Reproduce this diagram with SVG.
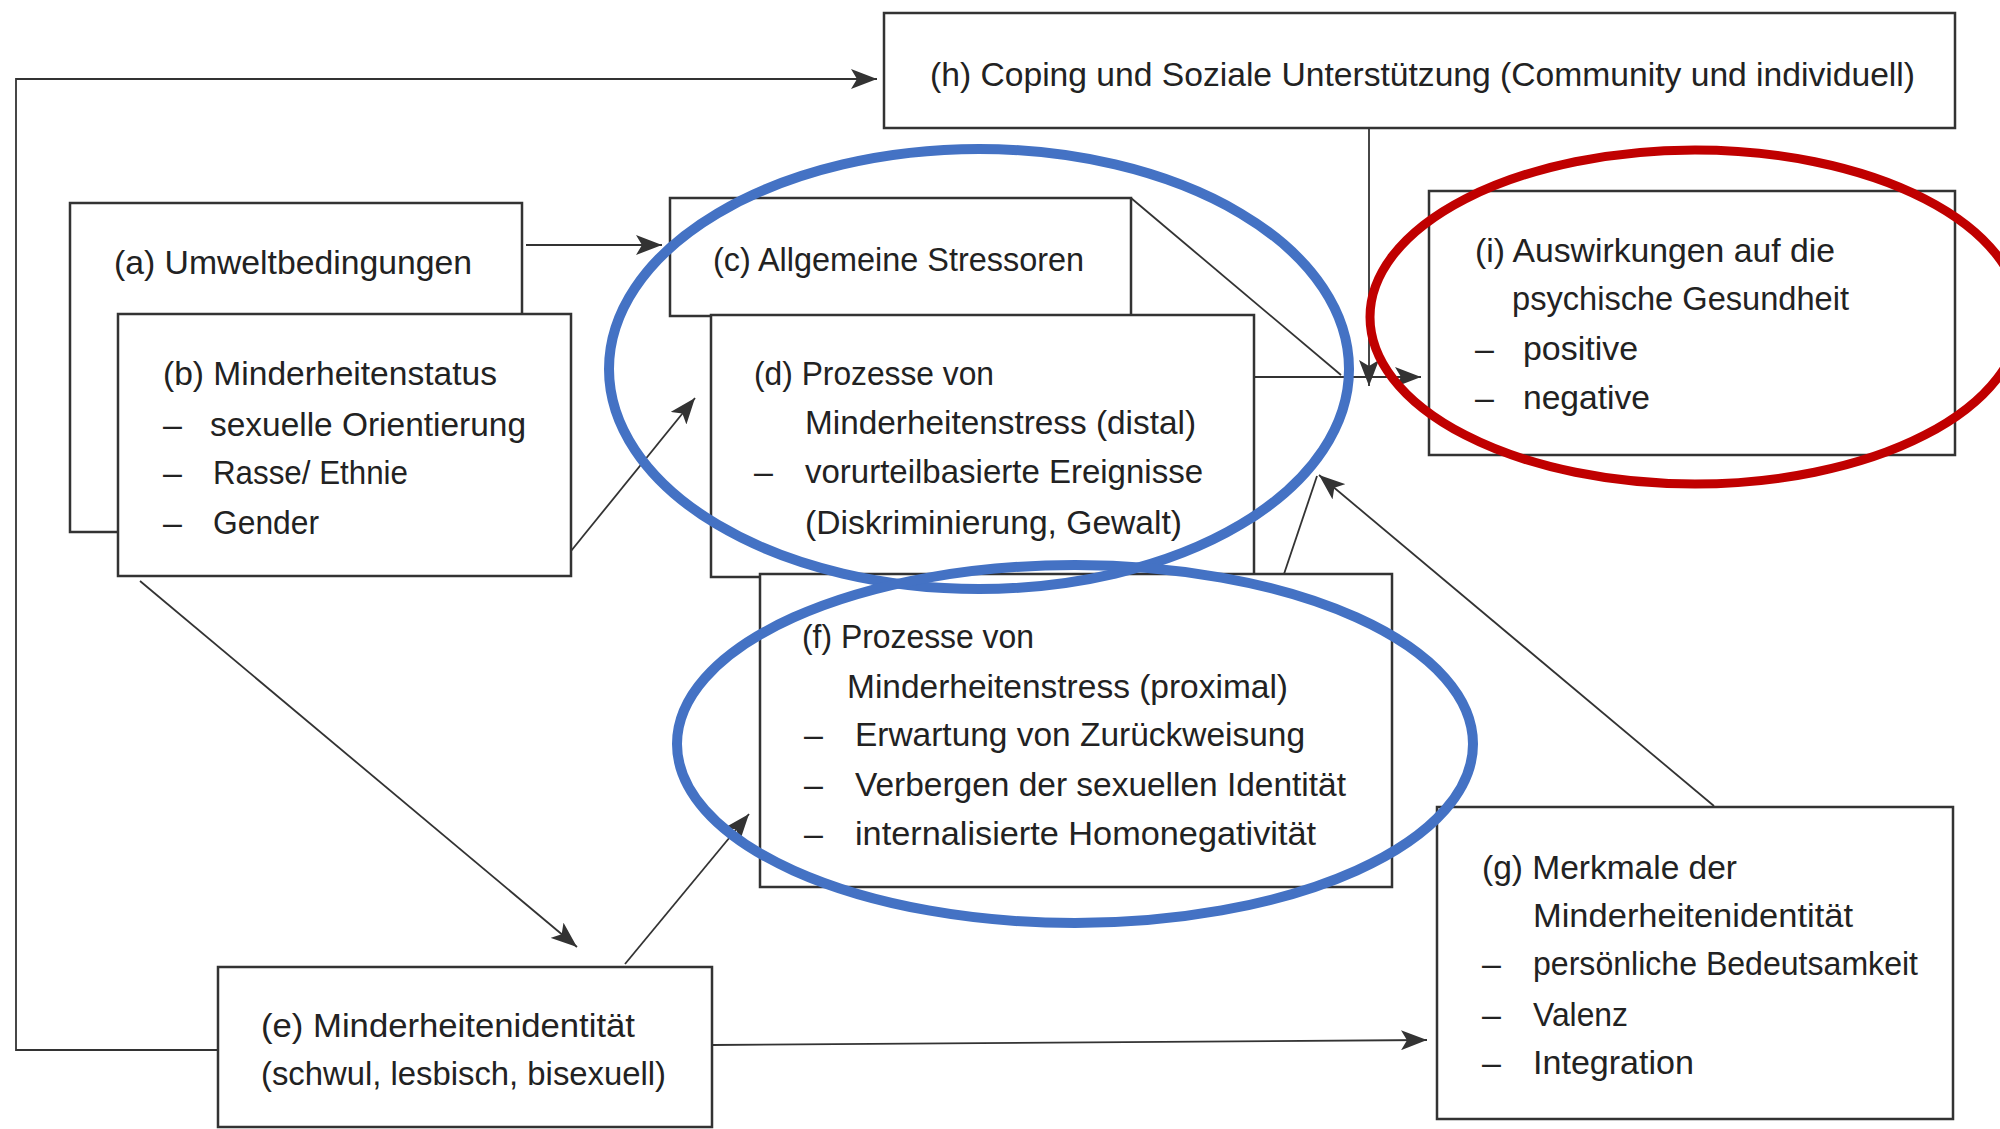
<svg xmlns="http://www.w3.org/2000/svg" width="2000" height="1129" viewBox="0 0 2000 1129">
<defs>
<marker id="arr" markerUnits="userSpaceOnUse" markerWidth="26" markerHeight="20" refX="26" refY="10" orient="auto">
<path d="M0,0 L26,10 L0,20 L6,10 z" fill="#333"/>
</marker>
<style>
.box{fill:#fff;stroke:#333;stroke-width:2.5}
.t{font-family:"Liberation Sans",Arial,sans-serif;font-size:34px;fill:#222}
.c{fill:none;stroke:#333;stroke-width:1.8}
.ca{fill:none;stroke:#333;stroke-width:1.8;marker-end:url(#arr)}
.blue{fill:none;stroke:#4472C4;stroke-width:10}
.red{fill:none;stroke:#C00000;stroke-width:9}
</style>
</defs>
<rect width="2000" height="1129" fill="#fff"/>
<g id="connectors">
<path class="ca" d="M218,1050 H16 V79 H877"/>
<path class="ca" d="M526,245 H662"/>
<path class="ca" d="M571,551 L695,398"/>
<path class="ca" d="M140,581 L577,947"/>
<path class="ca" d="M625,964 L749,814"/>
<path class="ca" d="M712,1045 L1427,1040"/>
<path class="ca" d="M1369,128 V386"/>
<path class="ca" d="M1254,377 H1421"/>
<path class="c" d="M1131,198 L1341,375"/>
<path class="ca" d="M1714,806 L1319,475"/>
<path class="c" d="M1284,574 L1317,476"/>
</g>
<g id="node-a">
<rect class="box" x="70" y="203" width="452" height="329"/>
<text class="t" x="114" y="274" textLength="358" lengthAdjust="spacingAndGlyphs">(a) Umweltbedingungen</text>
</g>
<g id="node-b">
<rect class="box" x="118" y="314" width="453" height="262"/>
<text class="t" x="163" y="385" textLength="334" lengthAdjust="spacingAndGlyphs">(b) Minderheitenstatus</text>
<text class="t" x="163" y="436">–</text>
<text class="t" x="210" y="436" textLength="316" lengthAdjust="spacingAndGlyphs">sexuelle Orientierung</text>
<text class="t" x="163" y="484">–</text>
<text class="t" x="213" y="484" textLength="195" lengthAdjust="spacingAndGlyphs">Rasse/ Ethnie</text>
<text class="t" x="163" y="534">–</text>
<text class="t" x="213" y="534" textLength="106" lengthAdjust="spacingAndGlyphs">Gender</text>
</g>
<g id="node-c">
<rect class="box" x="670" y="198" width="461" height="118"/>
<text class="t" x="713" y="271" textLength="371" lengthAdjust="spacingAndGlyphs">(c) Allgemeine Stressoren</text>
</g>
<g id="node-d">
<rect class="box" x="711" y="315" width="543" height="262"/>
<text class="t" x="754" y="385" textLength="240" lengthAdjust="spacingAndGlyphs">(d) Prozesse von</text>
<text class="t" x="805" y="434" textLength="391" lengthAdjust="spacingAndGlyphs">Minderheitenstress (distal)</text>
<text class="t" x="754" y="483">–</text>
<text class="t" x="805" y="483" textLength="398" lengthAdjust="spacingAndGlyphs">vorurteilbasierte Ereignisse</text>
<text class="t" x="805" y="534" textLength="377" lengthAdjust="spacingAndGlyphs">(Diskriminierung, Gewalt)</text>
</g>
<g id="node-f">
<rect class="box" x="760" y="574" width="632" height="313"/>
<text class="t" x="802" y="648" textLength="232" lengthAdjust="spacingAndGlyphs">(f) Prozesse von</text>
<text class="t" x="847" y="698" textLength="441" lengthAdjust="spacingAndGlyphs">Minderheitenstress (proximal)</text>
<text class="t" x="804" y="746">–</text>
<text class="t" x="855" y="746" textLength="450" lengthAdjust="spacingAndGlyphs">Erwartung von Zurückweisung</text>
<text class="t" x="804" y="796">–</text>
<text class="t" x="855" y="796" textLength="491" lengthAdjust="spacingAndGlyphs">Verbergen der sexuellen Identität</text>
<text class="t" x="804" y="845">–</text>
<text class="t" x="855" y="845" textLength="461" lengthAdjust="spacingAndGlyphs">internalisierte Homonegativität</text>
</g>
<g id="node-e">
<rect class="box" x="218" y="967" width="494" height="160"/>
<text class="t" x="261" y="1037" textLength="374" lengthAdjust="spacingAndGlyphs">(e) Minderheitenidentität</text>
<text class="t" x="261" y="1085" textLength="405" lengthAdjust="spacingAndGlyphs">(schwul, lesbisch, bisexuell)</text>
</g>
<g id="node-g">
<rect class="box" x="1437" y="807" width="516" height="312"/>
<text class="t" x="1482" y="879" textLength="255" lengthAdjust="spacingAndGlyphs">(g) Merkmale der</text>
<text class="t" x="1533" y="927" textLength="320" lengthAdjust="spacingAndGlyphs">Minderheitenidentität</text>
<text class="t" x="1482" y="975">–</text>
<text class="t" x="1533" y="975" textLength="385" lengthAdjust="spacingAndGlyphs">persönliche Bedeutsamkeit</text>
<text class="t" x="1482" y="1026">–</text>
<text class="t" x="1533" y="1026" textLength="95" lengthAdjust="spacingAndGlyphs">Valenz</text>
<text class="t" x="1482" y="1074">–</text>
<text class="t" x="1533" y="1074" textLength="161" lengthAdjust="spacingAndGlyphs">Integration</text>
</g>
<g id="node-h">
<rect class="box" x="884" y="13" width="1071" height="115"/>
<text class="t" x="930" y="86" textLength="985" lengthAdjust="spacingAndGlyphs">(h) Coping und Soziale Unterstützung (Community und individuell)</text>
</g>
<g id="node-i">
<rect class="box" x="1429" y="191" width="526" height="264"/>
<text class="t" x="1475" y="262" textLength="360" lengthAdjust="spacingAndGlyphs">(i) Auswirkungen auf die</text>
<text class="t" x="1512" y="310" textLength="337" lengthAdjust="spacingAndGlyphs">psychische Gesundheit</text>
<text class="t" x="1475" y="360">–</text>
<text class="t" x="1523" y="360" textLength="115" lengthAdjust="spacingAndGlyphs">positive</text>
<text class="t" x="1475" y="409">–</text>
<text class="t" x="1523" y="409" textLength="127" lengthAdjust="spacingAndGlyphs">negative</text>
</g>
<g id="highlights">
<ellipse class="blue" cx="979" cy="369" rx="370" ry="220"/>
<ellipse class="blue" cx="1075" cy="744" rx="398" ry="179"/>
<ellipse class="red" cx="1695" cy="317" rx="325" ry="167"/>
</g>
</svg>
